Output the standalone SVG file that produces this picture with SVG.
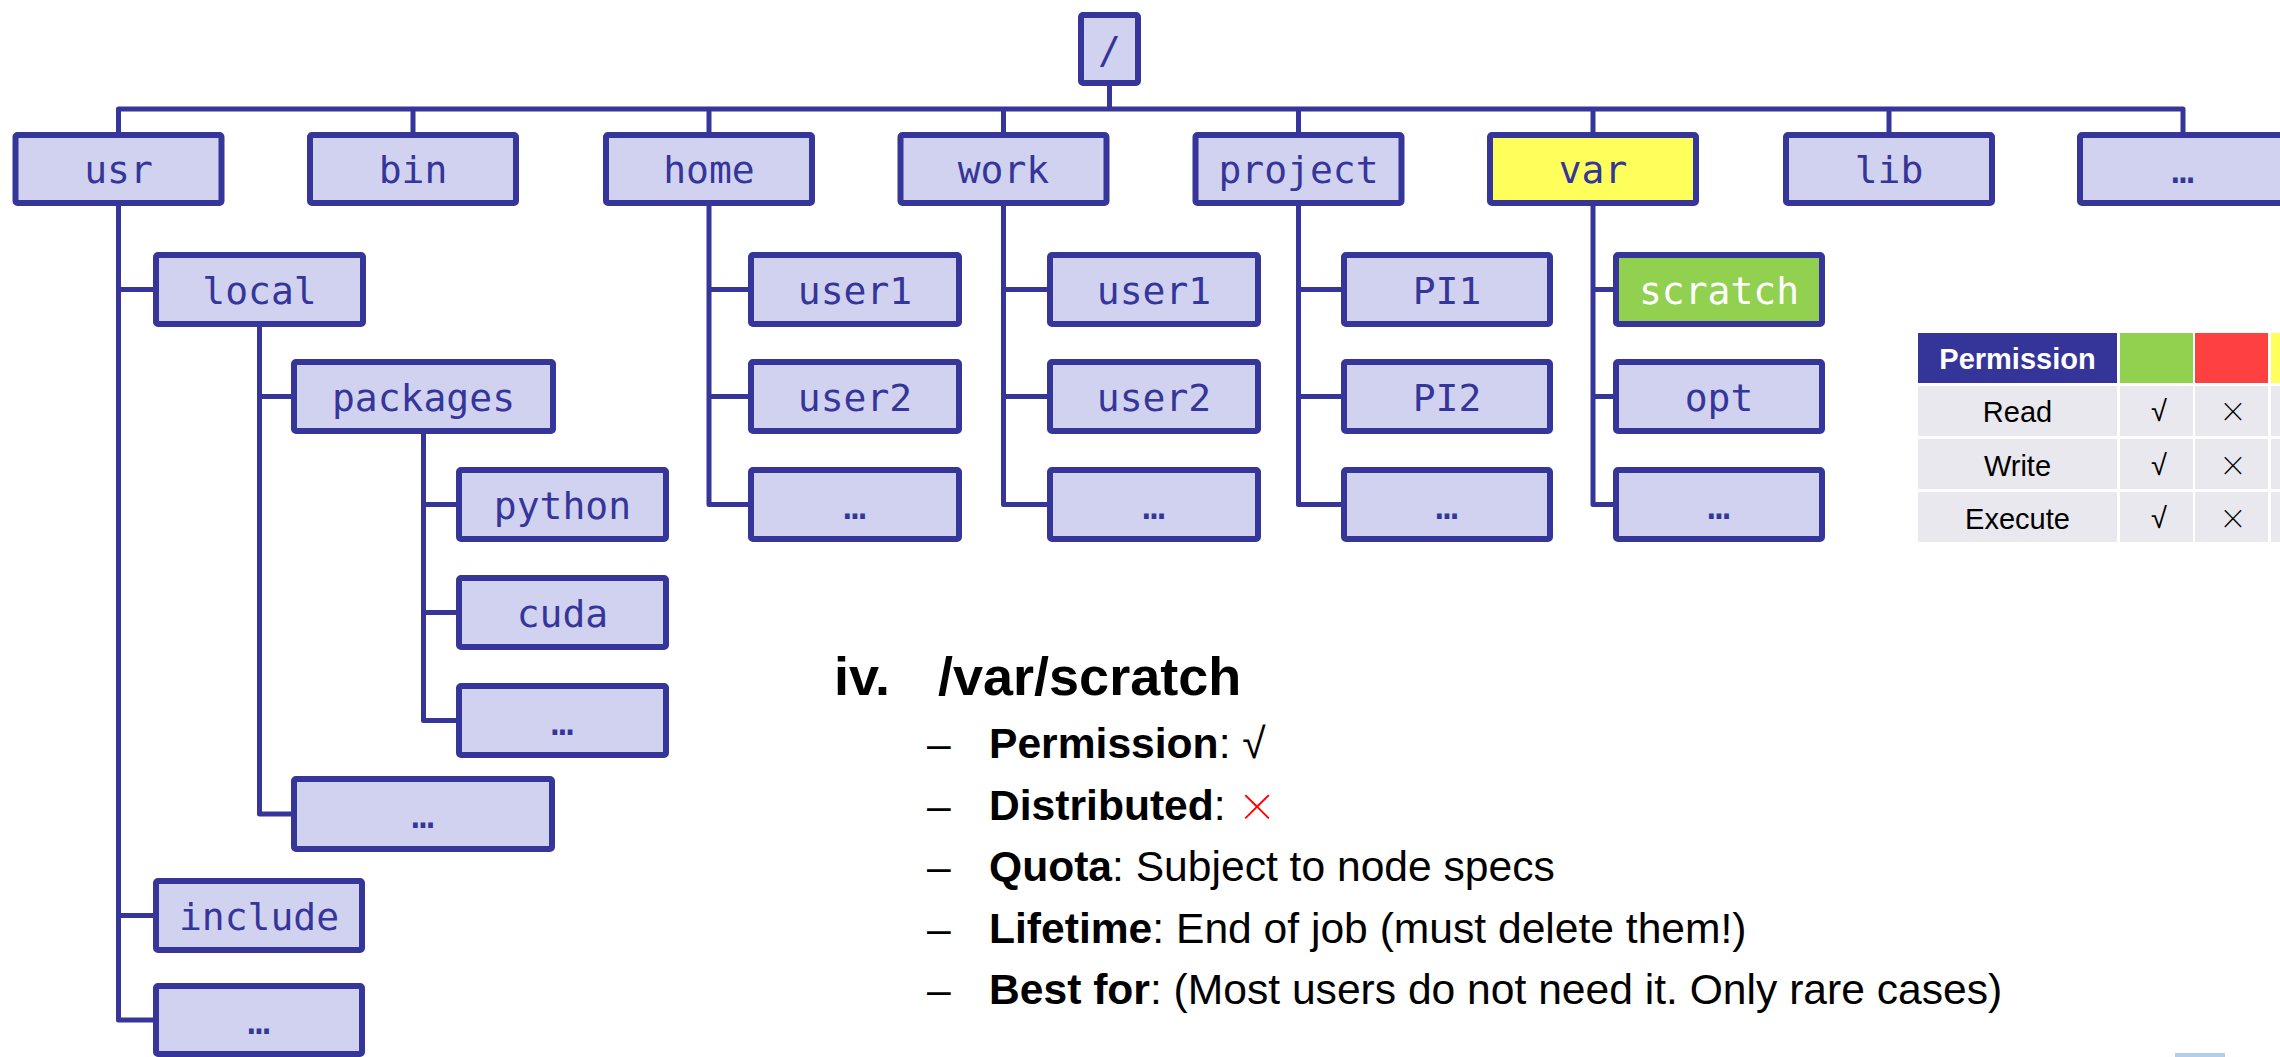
<svg xmlns="http://www.w3.org/2000/svg" width="2280" height="1057" viewBox="0 0 2280 1057">
<style>
.bx{fill:#D1D2EF;stroke:#35359A;stroke-width:6;}
.yl{fill:#FFFF5B;}
.gr{fill:#92D050;}
.lb{font-family:"DejaVu Sans Mono",monospace;font-size:38px;fill:#35359A;text-anchor:middle;}
.wt{fill:#FFFFFF;}
.cn{fill:none;stroke:#35359A;stroke-width:5;stroke-linejoin:round;}
.tx{font-family:"Liberation Sans",Arial,sans-serif;fill:#000;}
.cell{fill:#E8E8EE;}
.tc{font-family:"Liberation Sans",Arial,sans-serif;font-size:29px;fill:#000;text-anchor:middle;}
.x{font-family:"Noto Sans","Liberation Sans",sans-serif;font-weight:200;text-anchor:middle;}
</style>
<rect x="0" y="0" width="2280" height="1057" fill="#FFFFFF"/>
<g id="connectors">
<path class="cn" d="M118.5,134 V109 H2183 V134"/>
<path class="cn" d="M1109.5,86 V109 M413,109 V134 M709,109 V134 M1003.5,109 V134 M1298.5,109 V134 M1593,109 V134 M1889,109 V134"/>
<path class="cn" d="M118.5,206 V1020 H156 M118.5,289.5 H156 M118.5,915.5 H156"/>
<path class="cn" d="M259.5,327 V814 H294 M259.5,396.5 H294"/>
<path class="cn" d="M423.5,434 V720.5 H459 M423.5,504.5 H459 M423.5,612.5 H459"/>
<path class="cn" d="M709,206 V504.5 H751 M709,289.5 H751 M709,396.5 H751"/>
<path class="cn" d="M1003.5,206 V504.5 H1050 M1003.5,289.5 H1050 M1003.5,396.5 H1050"/>
<path class="cn" d="M1298.5,206 V504.5 H1344 M1298.5,289.5 H1344 M1298.5,396.5 H1344"/>
<path class="cn" d="M1593,206 V504.5 H1616 M1593,289.5 H1616 M1593,396.5 H1616"/>
</g>
<g id="root"><rect class="bx" x="1081" y="15" width="57" height="68" rx="2"/><text class="lb" x="1109.5" y="63">/</text></g>
<g id="usr"><rect class="bx" x="15.5" y="135" width="206" height="68" rx="2"/><text class="lb" x="118.5" y="183">usr</text></g>
<g id="bin"><rect class="bx" x="310" y="135" width="206" height="68" rx="2"/><text class="lb" x="413" y="183">bin</text></g>
<g id="home"><rect class="bx" x="606" y="135" width="206" height="68" rx="2"/><text class="lb" x="709" y="183">home</text></g>
<g id="work"><rect class="bx" x="900.5" y="135" width="206" height="68" rx="2"/><text class="lb" x="1003.5" y="183">work</text></g>
<g id="project"><rect class="bx" x="1195.5" y="135" width="206" height="68" rx="2"/><text class="lb" x="1298.5" y="183">project</text></g>
<g id="var"><rect class="bx yl" x="1490" y="135" width="206" height="68" rx="2"/><text class="lb" x="1593" y="183">var</text></g>
<g id="lib"><rect class="bx" x="1786" y="135" width="206" height="68" rx="2"/><text class="lb" x="1889" y="183">lib</text></g>
<g id="top-more"><rect class="bx" x="2080" y="135" width="206" height="68" rx="2"/><text class="lb" x="2183" y="183">…</text></g>

<g id="usr-local"><rect class="bx" x="156" y="255" width="207" height="69" rx="2"/><text class="lb" x="259.5" y="303.5">local</text></g>
<g id="local-packages"><rect class="bx" x="294" y="362" width="259" height="69" rx="2"/><text class="lb" x="423.5" y="410.5">packages</text></g>
<g id="packages-python"><rect class="bx" x="459" y="470" width="207" height="69" rx="2"/><text class="lb" x="562.5" y="518.5">python</text></g>
<g id="packages-cuda"><rect class="bx" x="459" y="578" width="207" height="69" rx="2"/><text class="lb" x="562.5" y="626.5">cuda</text></g>
<g id="packages-more"><rect class="bx" x="459" y="686" width="207" height="69" rx="2"/><text class="lb" x="562.5" y="734.5">…</text></g>
<g id="local-more"><rect class="bx" x="294" y="779" width="258" height="70" rx="2"/><text class="lb" x="423" y="828">…</text></g>
<g id="usr-include"><rect class="bx" x="156" y="881" width="206" height="69" rx="2"/><text class="lb" x="259" y="929.5">include</text></g>
<g id="usr-more"><rect class="bx" x="156" y="986" width="206" height="68" rx="2"/><text class="lb" x="259" y="1034">…</text></g>

<g id="home-user1"><rect class="bx" x="751" y="255" width="208" height="69" rx="2"/><text class="lb" x="855" y="303.5">user1</text></g>
<g id="home-user2"><rect class="bx" x="751" y="362" width="208" height="69" rx="2"/><text class="lb" x="855" y="410.5">user2</text></g>
<g id="home-more"><rect class="bx" x="751" y="470" width="208" height="69" rx="2"/><text class="lb" x="855" y="518.5">…</text></g>

<g id="work-user1"><rect class="bx" x="1050" y="255" width="208" height="69" rx="2"/><text class="lb" x="1154" y="303.5">user1</text></g>
<g id="work-user2"><rect class="bx" x="1050" y="362" width="208" height="69" rx="2"/><text class="lb" x="1154" y="410.5">user2</text></g>
<g id="work-more"><rect class="bx" x="1050" y="470" width="208" height="69" rx="2"/><text class="lb" x="1154" y="518.5">…</text></g>

<g id="project-PI1"><rect class="bx" x="1344" y="255" width="206" height="69" rx="2"/><text class="lb" x="1447" y="303.5">PI1</text></g>
<g id="project-PI2"><rect class="bx" x="1344" y="362" width="206" height="69" rx="2"/><text class="lb" x="1447" y="410.5">PI2</text></g>
<g id="project-more"><rect class="bx" x="1344" y="470" width="206" height="69" rx="2"/><text class="lb" x="1447" y="518.5">…</text></g>

<g id="var-scratch"><rect class="bx gr" x="1616" y="255" width="206" height="69" rx="2"/><text class="lb wt" x="1719" y="303.5">scratch</text></g>
<g id="var-opt"><rect class="bx" x="1616" y="362" width="206" height="69" rx="2"/><text class="lb" x="1719" y="410.5">opt</text></g>
<g id="var-more"><rect class="bx" x="1616" y="470" width="206" height="69" rx="2"/><text class="lb" x="1719" y="518.5">…</text></g>

<g id="permission-table">
<rect x="1918" y="333" width="199" height="50" fill="#353599"/>
<rect x="2120" y="333" width="73" height="50" fill="#92D050"/>
<rect x="2195" y="333" width="73" height="50" fill="#FF4040"/>
<rect x="2271" y="333" width="20" height="50" fill="#FFFF5B"/>
<rect class="cell" x="1918" y="386" width="199" height="50"/>
<rect class="cell" x="2120" y="386" width="73" height="50"/>
<rect class="cell" x="2195" y="386" width="73" height="50"/>
<rect class="cell" x="2271" y="386" width="20" height="50"/>
<rect class="cell" x="1918" y="439" width="199" height="50"/>
<rect class="cell" x="2120" y="439" width="73" height="50"/>
<rect class="cell" x="2195" y="439" width="73" height="50"/>
<rect class="cell" x="2271" y="439" width="20" height="50"/>
<rect class="cell" x="1918" y="492" width="199" height="50"/>
<rect class="cell" x="2120" y="492" width="73" height="50"/>
<rect class="cell" x="2195" y="492" width="73" height="50"/>
<rect class="cell" x="2271" y="492" width="20" height="50"/>
<text class="tc" x="2017.5" y="369" font-weight="bold" style="fill:#FFFFFF">Permission</text>
<text class="tc" x="2017.5" y="422">Read</text>
<text class="tc" x="2017.5" y="475.5">Write</text>
<text class="tc" x="2017.5" y="529">Execute</text>
<text class="tc" x="2159" y="421">√</text>
<text class="tc" x="2159" y="474.5">√</text>
<text class="tc" x="2159" y="528">√</text>
<text class="x" x="2233" y="426" font-size="40">×</text>
<text class="x" x="2233" y="479.5" font-size="40">×</text>
<text class="x" x="2233" y="533" font-size="40">×</text>
</g>

<g id="description">
<text class="tx" x="834" y="695" font-size="54" font-weight="bold">iv.</text>
<text class="tx" x="938" y="695" font-size="54" font-weight="bold">/var/scratch</text>
<text class="tx" x="927" y="758" font-size="42.6">–</text>
<text class="tx" x="927" y="819.5" font-size="42.6">–</text>
<text class="tx" x="927" y="881" font-size="42.6">–</text>
<text class="tx" x="927" y="942.5" font-size="42.6">–</text>
<text class="tx" x="927" y="1004" font-size="42.6">–</text>
<text class="tx" x="989" y="758" font-size="42.6"><tspan font-weight="bold">Permission</tspan>: √</text>
<text class="tx" x="989" y="819.5" font-size="42.6"><tspan font-weight="bold">Distributed</tspan>: </text>
<text class="x" x="1257" y="827" font-size="58" style="fill:#FF0000">×</text>
<text class="tx" x="989" y="881" font-size="42.6"><tspan font-weight="bold">Quota</tspan>: Subject to node specs</text>
<text class="tx" x="989" y="942.5" font-size="42.6"><tspan font-weight="bold">Lifetime</tspan>: End of job (must delete them!)</text>
<text class="tx" x="989" y="1004" font-size="42.6"><tspan font-weight="bold">Best for</tspan>: (Most users do not need it. Only rare cases)</text>
</g>
<rect x="2175" y="1053" width="50" height="4" fill="#B3CDEA"/>
</svg>
